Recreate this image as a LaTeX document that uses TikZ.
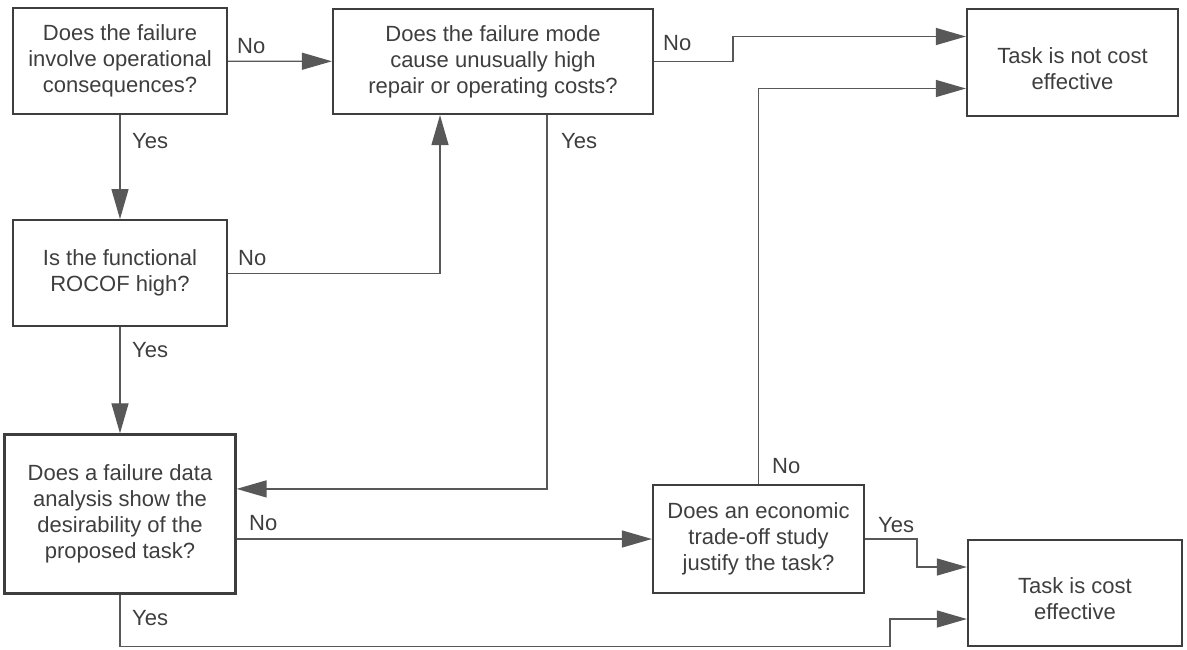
\documentclass[tikz,border=0pt]{standalone}
\usepackage{fontspec}
\setmainfont{Liberation Sans}
\usepackage{tikz}
\usetikzlibrary{arrows.meta, positioning}
\definecolor{InkGray}{RGB}{62,62,62}
\definecolor{LineGray}{RGB}{88,88,88}
\newcommand{\lowstrut}{\rule{0pt}{28pt}}

\begin{document}
\begin{tikzpicture}[
  x=1pt, y=-1pt,
  font=\fontsize{22}{26}\selectfont,
  text=InkGray,
  node distance=104pt,
  box/.style={rectangle, draw=InkGray, line width=2.2pt, align=center,
              minimum width=214pt, minimum height=106pt, inner sep=2pt},
  arrow/.style={-{Triangle[length=30pt, width=17pt]}, LineGray, line width=1.3pt},
  lbl/.style={anchor=base west, inner sep=0pt},
]
\useasboundingbox (0,0) rectangle (1187,649);

% left column
\node[box] (opcons) at (120,61) {Does the failure\\involve operational\\consequences?};
\node[box, below=of opcons] (rocof) {Is the functional\\ROCOF high?};
\node[box, below=106pt of rocof, minimum width=231pt, minimum height=159pt] (fdata)
  {Does a failure data\\analysis show the\\desirability of the\\proposed task?};

% middle
\node[box, minimum width=320pt, minimum height=105pt] (costs) at (493,61.5)
  {Does the failure mode\\cause unusually high\\repair or operating costs?};
\node[box, minimum width=211pt, minimum height=108pt] (tradeoff) at (758.5,539)
  {Does an economic\\trade-off study\\justify the task?};

% outcomes
\node[box, minimum width=211pt, minimum height=107pt] (notcost) at (1072.5,62.5)
  {\lowstrut Task is not cost\\effective};
\node[box, minimum width=214pt] (iscost) at (1075,593)
  {\lowstrut Task is cost\\effective};

% connectors
\draw[arrow] (opcons) -- (costs);
\draw[arrow] (opcons) -- (rocof);
\draw[arrow] (rocof.east) -| ([xshift=-53pt]costs.south);
\draw[arrow] (rocof) -- (fdata);
\draw[arrow] (costs.east) -- ++(79,0) |- ([yshift=26pt]notcost.west);
\draw[arrow] (tradeoff.north) |- ([yshift=-26pt]notcost.west);
\draw[arrow] ([xshift=54pt]costs.south) |- ([yshift=25pt]fdata.east);
\draw[arrow] (fdata.east |- tradeoff.west) -- (tradeoff.west);
\draw[arrow] (tradeoff.east) -- ++(52,0) |- ([yshift=26pt]iscost.west);
\draw[arrow] (fdata.south) |- ++(770,52) |- ([yshift=-26pt]iscost.west);

% labels
\node[lbl] (noA) at (237,53) {No};
\node[lbl] (yesA) at (132,148) {Yes};
\node[lbl] (noD) at (238,265) {No};
\node[lbl] (yesD) at (132,357) {Yes};
\node[lbl] (noB) at (663,50) {No};
\node[lbl] (yesB) at (561,148) {Yes};
\node[lbl] (noF) at (772,473) {No};
\node[lbl] (noE) at (249,530) {No};
\node[lbl] (yesF) at (878,532) {Yes};
\node[lbl] (yesE) at (132,625) {Yes};

\end{tikzpicture}
\end{document}
